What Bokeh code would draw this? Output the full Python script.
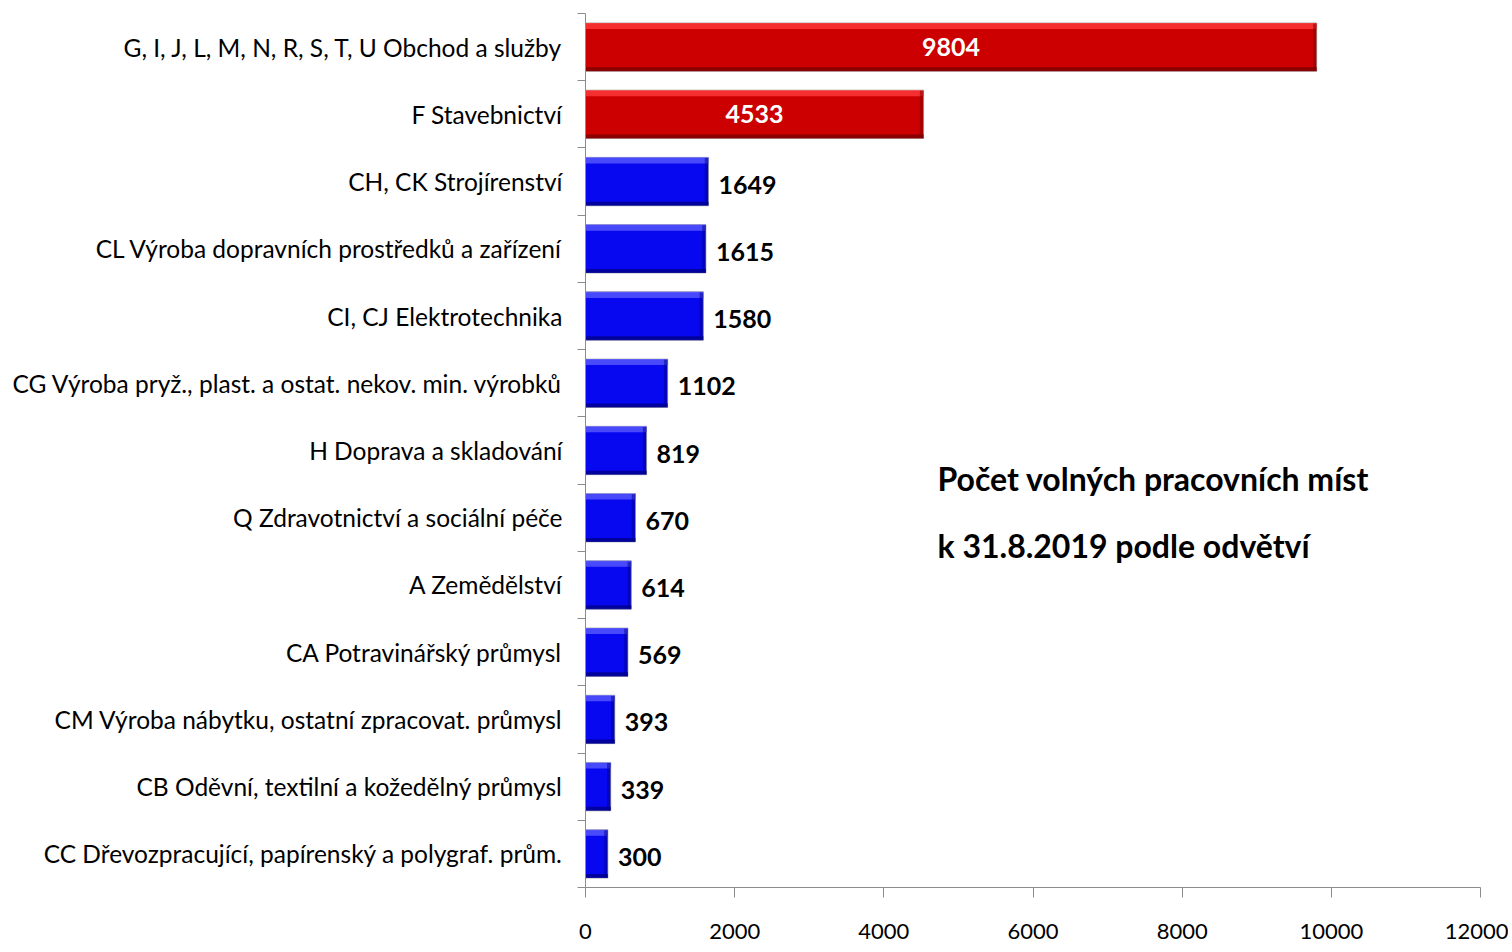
from bokeh.plotting import figure
from bokeh.models import Range1d, FixedTicker, ColumnDataSource
from bokeh.core.properties import value
from bokeh.embed import file_html
from bokeh.resources import INLINE

categories = [
    "G, I, J, L, M, N, R, S, T, U Obchod a služby",
    "F Stavebnictví",
    "CH, CK Strojírenství",
    "CL Výroba dopravních prostředků a zařízení",
    "CI, CJ Elektrotechnika",
    "CG Výroba pryž., plast. a ostat. nekov. min. výrobků",
    "H Doprava a skladování",
    "Q Zdravotnictví a sociální péče",
    "A Zemědělství",
    "CA Potravinářský průmysl",
    "CM Výroba nábytku, ostatní zpracovat. průmysl",
    "CB Oděvní, textilní a kožedělný průmysl",
    "CC Dřevozpracující, papírenský a polygraf. prům.",
]
values = [9804, 4533, 1649, 1615, 1580, 1102, 819, 670, 614, 569, 393, 339, 300]
x_ticks = [0, 2000, 4000, 6000, 8000, 10000, 12000]
title_lines = ["Počet volných pracovních míst", "k 31.8.2019 podle odvětví"]

FONT = "Lato"
n = len(categories)
ys = list(range(n))
big = [v >= 4000 for v in values]

main_col = ["#CC0000" if b else "#0808F0" for b in big]
light_col = ["#FF3B3B" if b else "#5A5AFF" for b in big]
dark_col = ["#7A0000" if b else "#00008A" for b in big]

H = 0.72
src = ColumnDataSource(dict(
    y=ys, v=values, main=main_col, light=light_col, dark=dark_col,
    ytop=[y - H / 2 + 0.045 for y in ys],
    ybot=[y + H / 2 - 0.03 for y in ys],
    vedge=[max(v - 50, 0) for v in values],
))

p = figure(frame_width=895, frame_height=874, output_backend="svg", toolbar_location=None,
           x_range=Range1d(0, 12000), y_range=Range1d(n - 0.5, -0.5),
           min_border_left=585, min_border_right=28, min_border_top=13, min_border_bottom=63)
p.outline_line_color = None
p.background_fill_color = "white"
p.border_fill_color = "white"
p.grid.visible = False

# bars with a simple bevel look
p.hbar(y="y", left=0, right="v", height=H, fill_color="main", line_color="#B8B8B8",
       line_width=1, source=src)
p.hbar(y="ytop", left=0, right="v", height=0.09, fill_color="light", line_color=None,
       fill_alpha=0.8, source=src)
p.hbar(y="ybot", left=0, right="v", height=0.06, fill_color="dark", line_color=None,
       fill_alpha=0.8, source=src)
p.hbar(y="y", left="vedge", right="v", height=H - 0.02, fill_color="dark", line_color=None,
       fill_alpha=0.5, source=src)

# value labels
in_x = [v / 2 for v, b in zip(values, big) if b]
in_y = [y for y, b in zip(ys, big) if b]
in_t = [str(v) for v, b in zip(values, big) if b]
p.text(x=in_x, y=in_y, text=in_t, text_color="white", text_font=value(FONT),
       text_font_style="bold", text_font_size="25px", text_align="center",
       text_baseline="middle")
out_x = [v for v, b in zip(values, big) if not b]
out_y = [y for y, b in zip(ys, big) if not b]
out_t = [str(v) for v, b in zip(values, big) if not b]
p.text(x=out_x, y=out_y, text=out_t, text_color="black", text_font=value(FONT),
       text_font_style="bold", text_font_size="25px", text_align="left",
       text_baseline="middle", x_offset=10, y_offset=3)

# title text
p.text(x=[4720, 4720], y=[6.42, 7.42], text=title_lines, text_color="black",
       text_font=value(FONT), text_font_style="bold", text_font_size="32px",
       text_align="left", text_baseline="middle")

# axes
xa = p.xaxis[0]
xa.ticker = FixedTicker(ticks=x_ticks)
xa.axis_line_color = "#8C8C8C"
xa.major_tick_line_color = "#8C8C8C"
xa.major_tick_out = 10
xa.major_tick_in = 0
xa.minor_tick_line_color = None
xa.major_label_text_font = FONT
xa.major_label_text_font_size = "22px"
xa.major_label_text_color = "black"
xa.major_label_standoff = 26

ya = p.yaxis[0]
ya.ticker = FixedTicker(ticks=ys, minor_ticks=[y + 0.5 for y in range(-1, n)])
ya.major_label_overrides = {y: c for y, c in zip(ys, categories)}
ya.axis_line_color = "#8C8C8C"
ya.major_tick_line_color = None
ya.major_tick_out = 0
ya.major_tick_in = 0
ya.minor_tick_line_color = "#8C8C8C"
ya.minor_tick_out = 8
ya.minor_tick_in = 0
ya.major_label_text_font = FONT
ya.major_label_text_font_size = "24.5px"
ya.major_label_text_color = "black"
ya.major_label_standoff = 15

open("out.html", "w").write(file_html(p, INLINE))
